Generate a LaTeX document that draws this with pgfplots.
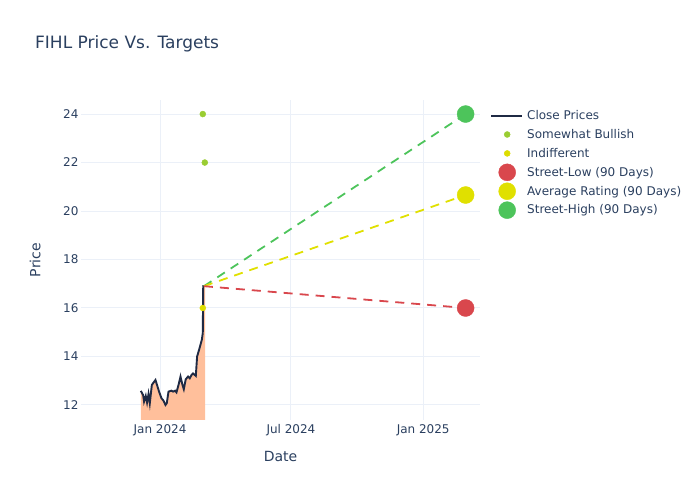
\documentclass[border=0pt]{standalone}
\usepackage{fontspec}
\setmainfont{DejaVu Sans}
\usepackage{pgfplots}
\pgfplotsset{compat=1.18}
\definecolor{txt}{HTML}{2A3F5F}
\definecolor{gridc}{HTML}{EBF0F8}
\definecolor{pricec}{HTML}{1F2A44}
\definecolor{fillc}{HTML}{FFBF9B}
\definecolor{lowc}{HTML}{D9474D}
\definecolor{avgc}{HTML}{E0E000}
\definecolor{highc}{HTML}{4DC45B}
\definecolor{bullc}{HTML}{9ACD32}
\definecolor{indc}{HTML}{DDDD00}

% legend images with the same box for every row
\pgfplotsset{
  lgline/.style={legend image code/.code={
    \path[draw=none, fill=none] (0pt,-3pt) rectangle (34pt,3pt);
    \draw[##1, overlay] (0pt,0pt) -- (31pt,0pt);}},
  lgdot/.style 2 args={legend image code/.code={
    \path[draw=none, fill=none] (0pt,-3pt) rectangle (34pt,3pt);
    \fill[overlay, #1] (16pt,0pt) circle (#2);}},
}

\begin{document}
\begin{tikzpicture}[x=1pt,y=1pt]
\useasboundingbox (0,0) rectangle (700,500);
\node[anchor=west, inner sep=0pt, text=txt, font=\fontsize{17}{20}\selectfont] at (35,456) {FIHL Price Vs. Targets};
\begin{axis}[
  at={(81pt,80pt)}, anchor=south west,
  scale only axis,
  width=399pt, height=320pt,
  xmin=-110, xmax=445,
  ymin=11.38, ymax=24.58,
  xtick={0,182,366},
  xticklabels={Jan 2024, Jul 2024, Jan 2025},
  ytick={12,14,16,18,20,22,24},
  grid=major,
  grid style={gridc, line width=1pt},
  axis line style={draw=none},
  tick style={draw=none},
  /pgf/number format/assume math mode=true,
  ticklabel style={font=\fontsize{12}{14}\selectfont, text=txt},
  yticklabel style={xshift=1pt},
  xticklabel style={yshift=-1pt},
  xlabel={Date}, ylabel={Price},
  label style={font=\fontsize{14}{16}\selectfont, text=txt},
  xlabel style={at={(axis description cs:0.5,-0.1125)}, anchor=center},
  ylabel style={at={(axis description cs:-0.115,0.5)}, anchor=center, rotate=0},
  legend style={at={(1.02,0.981)}, anchor=north west, draw=none, fill=none,
    font=\fontsize{12}{14}\selectfont, text=txt, row sep=4.3pt,
    legend cell align=left},
  clip=true,
]
% shaded area under close prices
\addplot[fill=fillc, draw=none, forget plot] coordinates {
(-26.8,12.58) (-23.6,12.41) (-22.3,12.14) (-19.9,12.37) (-18.1,12.10) (-16.1,12.45)
(-14.3,12.07) (-11.5,12.82) (-9.7,12.90) (-6.4,13.03) (-4.2,12.82) (-1.4,12.55)
(1.9,12.28) (4.7,12.18) (7.5,12.00) (9.3,12.07) (11.7,12.55) (15.9,12.59)
(18.1,12.55) (20.9,12.59) (22.8,12.52) (25.6,12.82) (28.4,13.17) (31.2,12.82)
(33.0,12.65) (35.7,13.06) (38.9,13.17) (41.3,13.10) (43.7,13.24) (45.9,13.30)
(49.7,13.20) (51.5,14.00) (54.2,14.27) (58.0,14.68) (59.4,14.96) (60.0,16.90)
(62.5,16.90) (62.5,0) (-26.8,0)} -- cycle;
% close prices
\addplot[pricec, line width=1.9pt, lgline] coordinates {
(-26.8,12.58) (-23.6,12.41) (-22.3,12.14) (-19.9,12.37) (-18.1,12.10) (-16.1,12.45)
(-14.3,12.07) (-11.5,12.82) (-9.7,12.90) (-6.4,13.03) (-4.2,12.82) (-1.4,12.55)
(1.9,12.28) (4.7,12.18) (7.5,12.00) (9.3,12.07) (11.7,12.55) (15.9,12.59)
(18.1,12.55) (20.9,12.59) (22.8,12.52) (25.6,12.82) (28.4,13.17) (31.2,12.82)
(33.0,12.65) (35.7,13.06) (38.9,13.17) (41.3,13.10) (43.7,13.24) (45.9,13.30)
(49.7,13.20) (51.5,14.00) (54.2,14.27) (58.0,14.68) (59.4,14.96) (60.0,16.90)
(61.0,16.90)};
\addlegendentry{Close Prices}
% target lines
\addplot[highc, dash pattern=on 9pt off 7pt, line width=1.8pt, forget plot] coordinates {(61,16.9) (425,24.0)};
\addplot[avgc, dash pattern=on 9pt off 7pt, line width=1.8pt, forget plot] coordinates {(61,16.9) (425,20.66)};
\addplot[lowc, dash pattern=on 9pt off 7pt, line width=1.8pt, forget plot] coordinates {(61,16.9) (425,16.0)};
% analyst ratings
\addplot[only marks, mark=*, mark size=3pt, color=bullc, lgdot={bullc}{3pt}] coordinates {(59.4,24.0) (62.2,22.0)};
\addlegendentry{Somewhat Bullish}
\addplot[only marks, mark=*, mark size=3pt, color=indc, lgdot={indc}{3pt}] coordinates {(59.4,16.0)};
\addlegendentry{Indifferent}
% 90-day targets
\addplot[only marks, mark=*, mark size=8.5pt, color=lowc, lgdot={lowc}{8.5pt}] coordinates {(425,16.0)};
\addlegendentry{Street-Low (90 Days)}
\addplot[only marks, mark=*, mark size=8.5pt, color=avgc, lgdot={avgc}{8.5pt}] coordinates {(425,20.66)};
\addlegendentry{Average Rating (90 Days)}
\addplot[only marks, mark=*, mark size=8.5pt, color=highc, lgdot={highc}{8.5pt}] coordinates {(425,24.0)};
\addlegendentry{Street-High (90 Days)}
\end{axis}
\end{tikzpicture}
\end{document}
